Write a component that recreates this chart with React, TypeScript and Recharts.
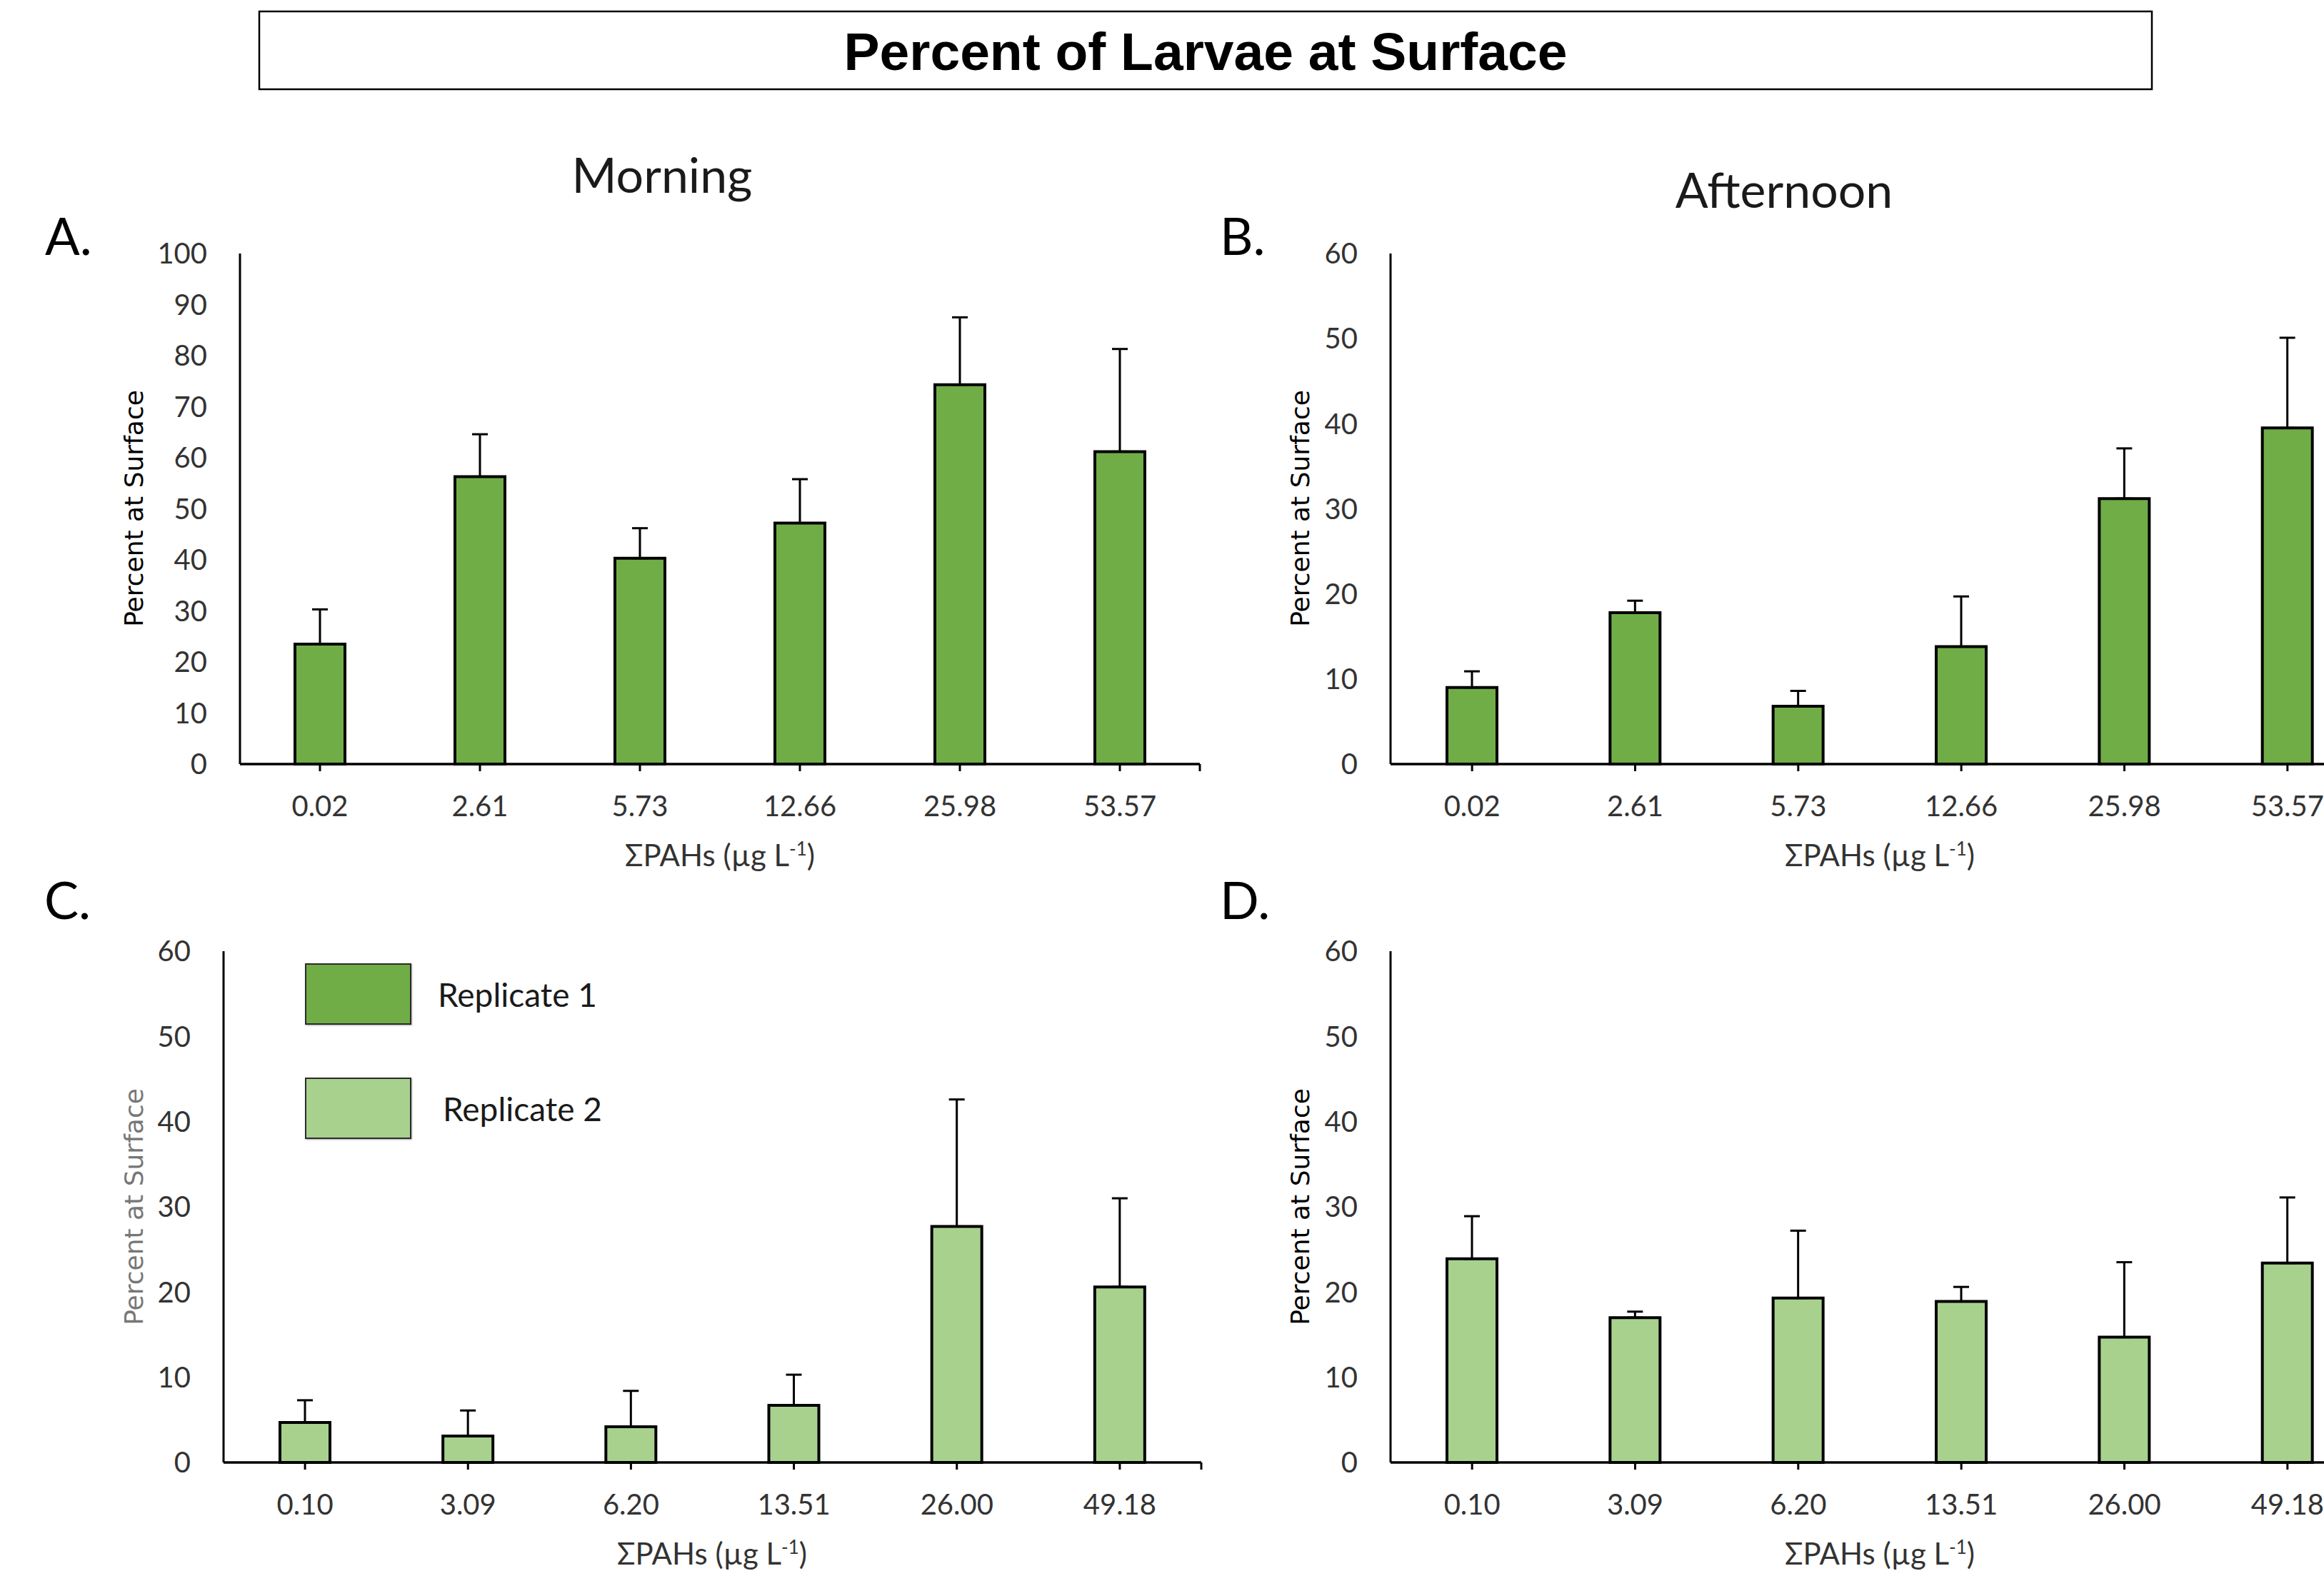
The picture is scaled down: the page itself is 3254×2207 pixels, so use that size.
import React from 'react';
import { BarChart, Bar, XAxis, YAxis, ErrorBar, Legend, ReferenceLine } from 'recharts';

// ---- data ----
const rep1Cats = ['0.02', '2.61', '5.73', '12.66', '25.98', '53.57'];
const rep2Cats = ['0.10', '3.09', '6.20', '13.51', '26.00', '49.18'];

const rep1Morning = [23.5, 56.3, 40.3, 47.2, 74.3, 61.2];
const rep1MorningErr = [6.8, 8.3, 5.9, 8.6, 13.2, 20.1];
const rep1Afternoon = [9.0, 17.8, 6.8, 13.8, 31.2, 39.5];
const rep1AfternoonErr = [1.9, 1.4, 1.8, 5.9, 5.9, 10.6];
const rep2Morning = [4.7, 3.1, 4.2, 6.7, 27.7, 20.6];
const rep2MorningErr = [2.6, 3.0, 4.2, 3.6, 14.9, 10.4];
const rep2Afternoon = [23.9, 17.0, 19.3, 18.9, 14.7, 23.4];
const rep2AfternoonErr = [5.0, 0.7, 7.9, 1.7, 8.8, 7.7];

const ticks100 = [0, 10, 20, 30, 40, 50, 60, 70, 80, 90, 100];
const ticks60 = [0, 10, 20, 30, 40, 50, 60];

const seriesNames = ['Replicate 1', 'Replicate 2'];
const seriesColors = ['#70AD47', '#A9D18E'];

const chartTitle = 'Percent of Larvae at Surface';
const columnTitles = ['Morning', 'Afternoon'];
const panelLetters = ['A.', 'B.', 'C.', 'D.'];
const yTitle = 'Percent at Surface';

const TICK_FONT = { fontFamily: 'Lato', fontSize: 40, fill: '#333333' };
const TICK_LEN = 10;

type PanelProps = {
  left: number;
  plotLeft: number;
  plotTop: number;
  plotRight: number;
  plotBottom: number;
  cats: string[];
  values: number[];
  errs: number[];
  color: string;
  yMax: number;
  yTicks: number[];
  showLegend?: boolean;
};

const renderLegend = () => (
  <div style={{ position: 'relative', width: 520, height: 260 }}>
    {seriesNames.map((n, i) => (
      <div
        key={n}
        style={{ position: 'absolute', left: 0, top: i * 160, height: 86, display: 'flex', alignItems: 'center' }}
      >
        <div
          style={{
            width: 149,
            height: 86,
            boxSizing: 'border-box',
            background: seriesColors[i],
            border: '2px solid #2b2b2b',
            boxShadow: '1px 1px 2px rgba(0,0,0,0.35)',
          }}
        />
        <span
          style={{
            marginLeft: 37 + i * 7,
            fontFamily: 'Lato',
            fontSize: 46,
            color: '#1a1a1a',
            whiteSpace: 'nowrap',
          }}
        >
          {n}
        </span>
      </div>
    ))}
  </div>
);

function Panel(p: PanelProps) {
  const mTop = 60;
  const xH = 100;
  const mBottom = 20;
  const top = p.plotTop - mTop;
  const width = p.plotRight - p.left + 40;
  const plotH = p.plotBottom - p.plotTop;
  const height = plotH + mTop + xH + mBottom;
  const data = p.cats.map((c, i) => ({ cat: c, value: p.values[i], err: [0, p.errs[i]] }));
  const lastCat = p.cats[p.cats.length - 1];
  const drop = (TICK_LEN * p.yMax) / plotH;
  return (
    <div style={{ position: 'absolute', left: p.left, top }}>
      <BarChart
        width={width}
        height={height}
        data={data}
        margin={{ top: mTop, right: 40, bottom: mBottom, left: 0 }}
        barCategoryGap={0}
      >
        <XAxis
          dataKey="cat"
          interval={0}
          height={xH}
          axisLine={{ stroke: '#000', strokeWidth: 3.5 }}
          tickLine={{ stroke: '#000', strokeWidth: 3 }}
          tickSize={TICK_LEN}
          tickMargin={35}
          tick={TICK_FONT}
        />
        <YAxis
          type="number"
          domain={[0, p.yMax]}
          ticks={p.yTicks}
          interval={0}
          width={p.plotLeft - p.left}
          axisLine={{ stroke: '#000', strokeWidth: 3 }}
          tickLine={false}
          tickSize={0}
          tickMargin={46}
          tick={TICK_FONT}
        />
        <ReferenceLine
          segment={[
            { x: lastCat, y: 0 },
            { x: lastCat, y: -drop },
          ]}
          position="end"
          ifOverflow="visible"
          stroke="#000"
          strokeWidth={3}
        />
        <Bar dataKey="value" fill={p.color} stroke="#000" strokeWidth={4} barSize={70} isAnimationActive={false}>
          <ErrorBar dataKey="err" width={11} strokeWidth={3} stroke="#000" direction="y" isAnimationActive={false} />
        </Bar>
        {p.showLegend ? (
          <Legend
            layout="vertical"
            align="center"
            verticalAlign="middle"
            content={renderLegend}
            wrapperStyle={{ left: 427 - p.left, top: 1349 - top, width: 520, height: 260 }}
          />
        ) : null}
      </BarChart>
    </div>
  );
}

function XTitle({ cx, cy }: { cx: number; cy: number }) {
  return (
    <text x={cx} y={cy + 14} textAnchor="middle" fontFamily="Lato" fontSize={42} fill="#333333">
      ΣPAHs (µg L
      <tspan dy={-15} fontSize={26}>
        -1
      </tspan>
      <tspan dy={15}>)</tspan>
    </text>
  );
}

function YTitle({ cx, cy, color }: { cx: number; cy: number; color: string }) {
  return (
    <text
      x={cx}
      y={cy}
      transform={`rotate(-90, ${cx}, ${cy})`}
      textAnchor="middle"
      dominantBaseline="central"
      fontFamily="DejaVu Sans"
      fontSize={36}
      fill={color}
    >
      {yTitle}
    </text>
  );
}

export default function App() {
  return (
    <div
      style={{
        position: 'absolute',
        left: 0,
        top: 0,
        width: 3254,
        height: 2207,
        overflow: 'hidden',
        background: '#fff',
      }}
    >
      <Panel
        left={0}
        plotLeft={336}
        plotTop={355}
        plotRight={1680}
        plotBottom={1070}
        cats={rep1Cats}
        values={rep1Morning}
        errs={rep1MorningErr}
        color={seriesColors[0]}
        yMax={100}
        yTicks={ticks100}
      />
      <Panel
        left={1700}
        plotLeft={1947}
        plotTop={355}
        plotRight={3317}
        plotBottom={1070}
        cats={rep1Cats}
        values={rep1Afternoon}
        errs={rep1AfternoonErr}
        color={seriesColors[0]}
        yMax={60}
        yTicks={ticks60}
      />
      <Panel
        left={0}
        plotLeft={313}
        plotTop={1332}
        plotRight={1682}
        plotBottom={2048}
        cats={rep2Cats}
        values={rep2Morning}
        errs={rep2MorningErr}
        color={seriesColors[1]}
        yMax={60}
        yTicks={ticks60}
        showLegend
      />
      <Panel
        left={1700}
        plotLeft={1947}
        plotTop={1332}
        plotRight={3317}
        plotBottom={2048}
        cats={rep2Cats}
        values={rep2Afternoon}
        errs={rep2AfternoonErr}
        color={seriesColors[1]}
        yMax={60}
        yTicks={ticks60}
      />
      <svg
        width={3254}
        height={2207}
        style={{ position: 'absolute', left: 0, top: 0, pointerEvents: 'none' }}
      >
        <rect x={363} y={16} width={2650} height={109} fill="none" stroke="#000" strokeWidth={2.5} />
        <text
          x={1688}
          y={98}
          textAnchor="middle"
          fontFamily="Liberation Sans, Arial, sans-serif"
          fontWeight="bold"
          fontSize={75}
          fill="#000"
        >
          {chartTitle}
        </text>
        <text x={927} y={270} textAnchor="middle" fontFamily="Lato" fontSize={68} fill="#1a1a1a">
          {columnTitles[0]}
        </text>
        <text x={2498} y={291} textAnchor="middle" fontFamily="Lato" fontSize={68} fill="#1a1a1a">
          {columnTitles[1]}
        </text>
        <text x={63} y={357} fontFamily="Lato" fontSize={72} fill="#000">{panelLetters[0]}</text>
        <text x={1708} y={357} fontFamily="Lato" fontSize={72} fill="#000">{panelLetters[1]}</text>
        <text x={62} y={1287} fontFamily="Lato" fontSize={72} fill="#000">{panelLetters[2]}</text>
        <text x={1708} y={1287} fontFamily="Lato" fontSize={72} fill="#000">{panelLetters[3]}</text>
        <YTitle cx={187} cy={712} color="#000" />
        <YTitle cx={1820} cy={712} color="#000" />
        <YTitle cx={187} cy={1690} color="#777777" />
        <YTitle cx={1820} cy={1690} color="#000" />
        <XTitle cx={1008} cy={1199} />
        <XTitle cx={2632} cy={1199} />
        <XTitle cx={997} cy={2177} />
        <XTitle cx={2632} cy={2177} />
      </svg>
    </div>
  );
}
